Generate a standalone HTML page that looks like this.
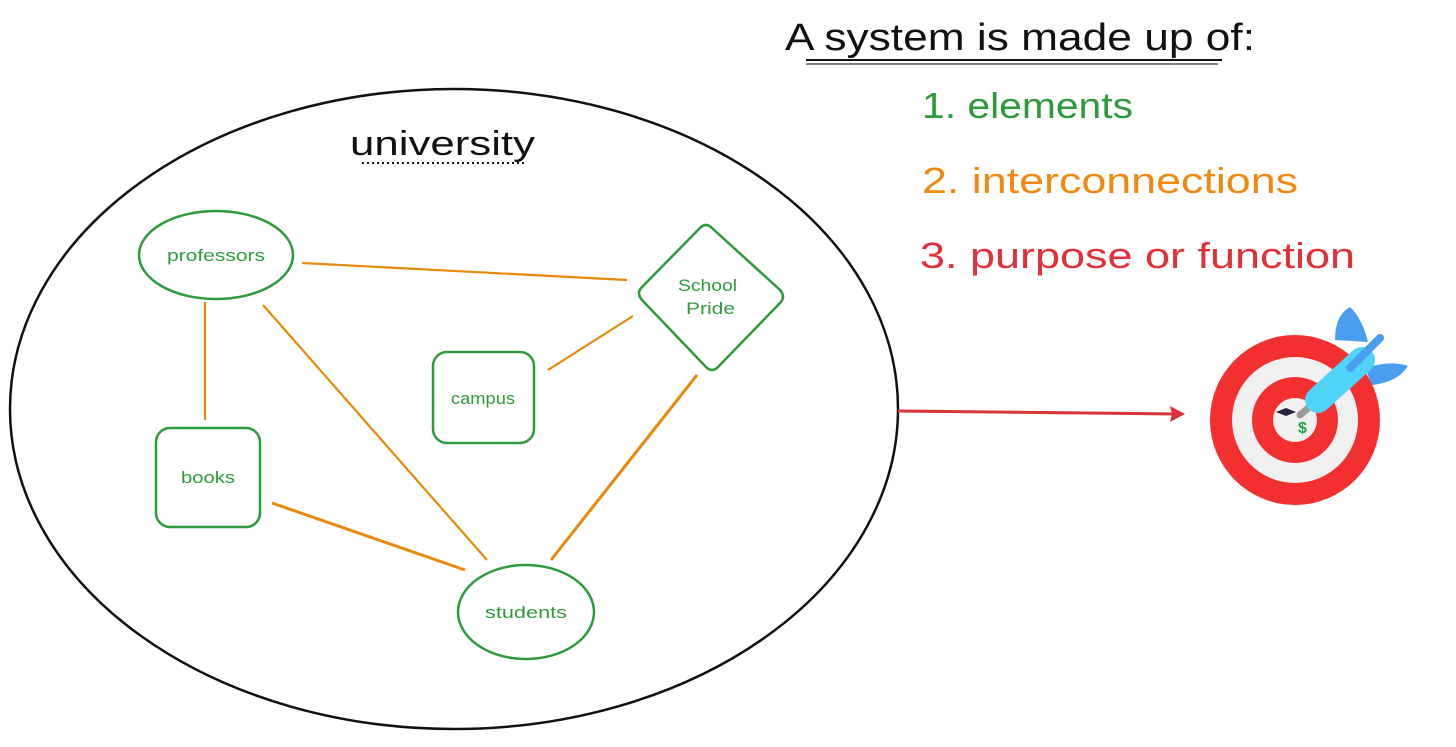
<!DOCTYPE html>
<html><head><style>
html,body{margin:0;padding:0;background:#fff;}
svg text{font-family:"Liberation Sans",sans-serif;}
</style></head><body>
<svg width="1456" height="742" viewBox="0 0 1456 742" xmlns="http://www.w3.org/2000/svg">
<rect width="1456" height="742" fill="#fff"/>
<ellipse cx="454" cy="409" rx="444" ry="320" fill="none" stroke="#111" stroke-width="2.5"/>
<text x="350" y="155" font-size="34" fill="#111" textLength="185" lengthAdjust="spacingAndGlyphs">university</text>
<line x1="362" y1="163" x2="524" y2="163" stroke="#111" stroke-width="2" stroke-dasharray="2,3"/>
<g stroke="#e8890c" stroke-width="2.2" fill="none">
<line x1="302" y1="263" x2="627" y2="280"/>
<line x1="205" y1="302" x2="205" y2="420"/>
<line x1="263" y1="305" x2="487" y2="560"/>
<line x1="548" y1="370" x2="633" y2="316"/>
<line x1="697" y1="375" x2="551" y2="560" stroke-width="3"/>
<line x1="272" y1="503" x2="465" y2="570" stroke-width="3"/>
</g>
<g stroke="#2f9a3c" stroke-width="2.5" fill="#fff">
<ellipse cx="216" cy="255" rx="77" ry="44"/>
<path d="M700 228 Q706 222 712 228 L780 290 Q786 297 780 303 L718 367 Q712 373 706 367 L642 300 Q636 293 642 287 Z"/>
<rect x="433" y="352" width="101" height="91" rx="14"/>
<rect x="156" y="428" width="104" height="99" rx="14"/>
<ellipse cx="526" cy="612" rx="68" ry="47"/>
</g>
<g fill="#2f9a3c" font-size="17">
<text x="167" y="261" textLength="98" lengthAdjust="spacingAndGlyphs">professors</text>
<text x="678" y="291" textLength="59" lengthAdjust="spacingAndGlyphs">School</text>
<text x="686" y="314" textLength="49" lengthAdjust="spacingAndGlyphs">Pride</text>
<text x="451" y="404" textLength="64" lengthAdjust="spacingAndGlyphs">campus</text>
<text x="181" y="483" textLength="54" lengthAdjust="spacingAndGlyphs">books</text>
<text x="485" y="618" textLength="82" lengthAdjust="spacingAndGlyphs">students</text>
</g>
<line x1="898" y1="411" x2="1175" y2="414" stroke="#d9343a" stroke-width="3"/>
<path d="M1185 414 L1170 406 L1172 414 L1170 422 Z" fill="#d9343a"/>
<text x="785" y="50" font-size="38" fill="#111" textLength="470" lengthAdjust="spacingAndGlyphs">A system is made up of:</text>
<line x1="806" y1="60" x2="1222" y2="60" stroke="#111" stroke-width="2"/>
<line x1="806" y1="64" x2="1218" y2="64" stroke="#555" stroke-width="1.5"/>
<text x="922" y="118" font-size="36" fill="#2f9a3c" textLength="211" lengthAdjust="spacingAndGlyphs">1. elements</text>
<text x="922" y="193" font-size="36" fill="#ee8a12" textLength="376" lengthAdjust="spacingAndGlyphs">2. interconnections</text>
<text x="920" y="268" font-size="36" fill="#e0303a" textLength="435" lengthAdjust="spacingAndGlyphs">3. purpose or function</text>
<circle cx="1295" cy="420" r="85" fill="#f2302f"/>
<circle cx="1295" cy="420" r="63" fill="#f0f0f0"/>
<circle cx="1295" cy="420" r="43" fill="#f2302f"/>
<circle cx="1295" cy="420" r="22" fill="#f0f0f0"/>
<path d="M1335 340 Q1335 315 1350 307 Q1362 318 1368 342 Z" fill="#4a9ef0"/>
<path d="M1365 368 Q1392 360 1408 366 Q1398 382 1372 385 Z" fill="#4a9ef0"/>
<line x1="1300" y1="415" x2="1320" y2="398" stroke="#999" stroke-width="7" stroke-linecap="round"/>
<line x1="1318" y1="400" x2="1362" y2="360" stroke="#4fd3f8" stroke-width="26" stroke-linecap="round"/>
<line x1="1350" y1="368" x2="1380" y2="338" stroke="#4a9ef0" stroke-width="8" stroke-linecap="round"/>
<text x="1298" y="433" font-size="16" fill="#1fa34a" font-weight="bold">$</text>
<path d="M1276 412 L1286 408 L1296 412 L1286 416 Z" fill="#2a2040"/>
</svg>
</body></html>
